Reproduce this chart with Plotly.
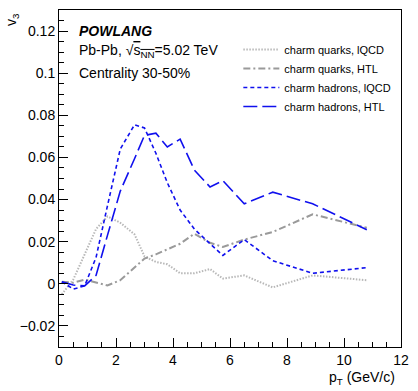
import plotly.graph_objects as go

# transverse-momentum grid (GeV/c)
pt = [0.1, 0.5, 0.9, 1.3, 1.7, 2.15, 2.65, 3.0, 3.4, 3.8, 4.25, 4.75,
      5.3, 5.75, 6.5, 7.5, 8.9, 10.8]

# v3 of charm quarks and charm hadrons
quarks_lqcd = [-0.005, 0.002, 0.014, 0.026, 0.032, 0.029, 0.0235, 0.013,
               0.0104, 0.0093, 0.005, 0.005, 0.007, 0.0025, 0.004, -0.0017,
               0.004, 0.0017]
quarks_htl = [0.001, 0.0005, 0.002, 0.0005, -0.0008, 0.0017, 0.0077, 0.012,
              0.014, 0.0165, 0.019, 0.0238, 0.0195, 0.0175, 0.021, 0.0246,
              0.033, 0.0266]
hadrons_lqcd = [0.001, -0.0025, -0.001, 0.0125, 0.037, 0.064, 0.0755, 0.074,
                0.062, 0.048, 0.035, 0.026, 0.019, 0.0135, 0.021, 0.011,
                0.005, 0.0077]
hadrons_htl = [0.001, -0.0006, -0.001, 0.004, 0.023, 0.044, 0.0594, 0.0705,
               0.0715, 0.065, 0.0687, 0.054, 0.046, 0.049, 0.038, 0.0435,
               0.038, 0.0257]

series_names = ["charm quarks, lQCD", "charm quarks, HTL",
                "charm hadrons, lQCD", "charm hadrons, HTL"]

x_ticks = [0, 2, 4, 6, 8, 10, 12]
y_ticks = [-0.02, 0, 0.02, 0.04, 0.06, 0.08, 0.1, 0.12]
y_tick_text = ["\u22120.02", "0", "0.02", "0.04", "0.06", "0.08", "0.1", "0.12"]

FONT = "Liberation Sans, Arial, Helvetica, sans-serif"

styles = [
    dict(color="#b8b8b8", width=2, dash="1.5px,1.5px"),
    dict(color="#9a9a9a", width=2, dash="7px,3px,2px,3px"),
    dict(color="#1010ee", width=1.6, dash="4px,3px"),
    dict(color="#1010ee", width=1.6, dash="14px,5px"),
]

fig = go.Figure()
for name, yv, st in zip(series_names,
                        [quarks_lqcd, quarks_htl, hadrons_lqcd, hadrons_htl],
                        styles):
    fig.add_trace(go.Scatter(x=pt, y=yv, mode="lines", name=name, line=st))

L, R, T, B = 59, 10, 9, 44
W, H = 418, 391
pw, ph = W - L - R, H - T - B


def px(x):
    return (x - L) / pw


def py(y):
    return (H - B - y) / ph


axis_common = dict(
    showgrid=False, zeroline=False, showline=True, linecolor="black",
    linewidth=1, mirror=True, ticks="inside", ticklen=9, tickwidth=1,
    tickcolor="black", tickfont=dict(family=FONT, size=14, color="black"),
)

fig.update_layout(
    width=W, height=H,
    margin=dict(l=L, r=R, t=T, b=B),
    plot_bgcolor="white", paper_bgcolor="white",
    font=dict(family=FONT, color="black"),
    xaxis=dict(range=[0, 12], tickvals=x_ticks,
               minor=dict(dtick=0.5, tick0=0, ticks="inside", ticklen=5,
                          tickcolor="black"),
               **axis_common),
    yaxis=dict(range=[-0.03, 0.13], tickvals=y_ticks, ticktext=y_tick_text,
               minor=dict(dtick=0.005, tick0=0, ticks="inside", ticklen=5,
                          tickcolor="black"),
               **axis_common),
    legend=dict(x=px(242), y=py(34), xanchor="left", yanchor="top",
                bgcolor="rgba(0,0,0,0)", font=dict(family=FONT, size=11),
                itemwidth=36),
    showlegend=True,
)

annots = [
    dict(x=px(11), y=py(18), text="v<sub>3</sub>", textangle=-90,
         xanchor="center", yanchor="middle", font=dict(size=14)),
    dict(x=px(404), y=py(378), text="p<sub>T</sub> (GeV/c)",
         xanchor="right", yanchor="middle", font=dict(size=14)),
    dict(x=px(77), y=py(30), text="<b><i>POWLANG</i></b>",
         xanchor="left", yanchor="middle", font=dict(size=14)),
    dict(x=px(77), y=py(50),
         text="Pb-Pb, \u221a<span style='text-decoration:overline'>s<sub>NN</sub></span>=5.02 TeV",
         xanchor="left", yanchor="middle", font=dict(size=14)),
    dict(x=px(77), y=py(72), text="Centrality 30-50%",
         xanchor="left", yanchor="middle", font=dict(size=14)),
]
for a in annots:
    fig.add_annotation(xref="paper", yref="paper", showarrow=False, **a)

fig.write_html("out.html")
